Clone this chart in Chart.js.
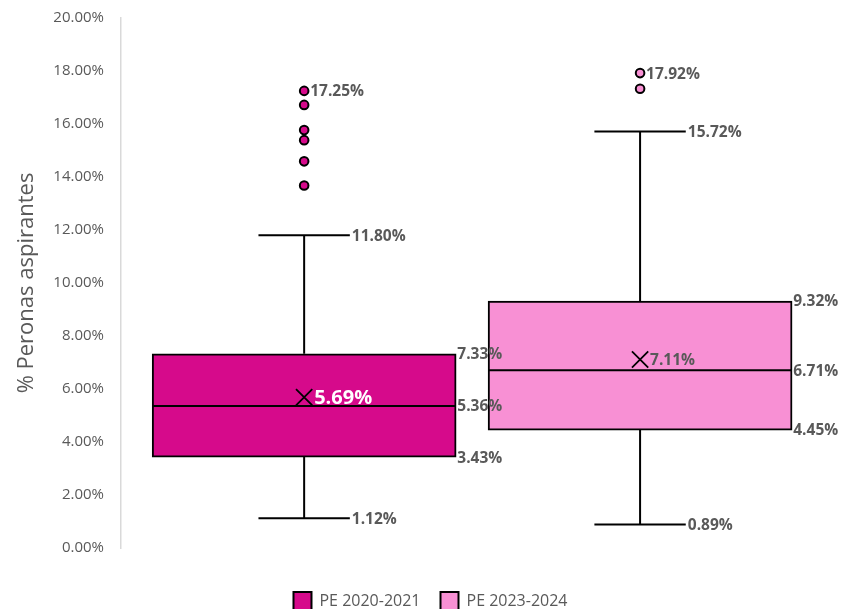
<!DOCTYPE html>
<html>
<head>
<meta charset="utf-8">
<script src="https://cdn.jsdelivr.net/npm/chart.js@4/dist/chart.umd.min.js"></script>
<style>
  html, body { margin: 0; padding: 0; background: #fff; }
  #wrap { width: 845px; height: 609px; }
</style>
</head>
<body>
<div id="wrap"><canvas id="box"></canvas></div>
<script>
// boxplot data (% of applicants)
const series = ['PE 2020-2021', 'PE 2023-2024'];
const slots = [1, 2];
const mins = [1.12, 0.89];
const q1s = [3.43, 4.45];
const medians = [5.36, 6.71];
const q3s = [7.33, 9.32];
const maxs = [11.80, 15.72];
const means = [5.69, 7.11];
const outliers = [
  [17.25, 16.72, 15.77, 15.39, 14.59, 13.68],
  [17.92, 17.33]
];
const yMin = 0, yMax = 20, yStep = 2;

const fills = ['#D60A8B', '#F890D4'];
const gray = '#595959';
const boxHalf = 0.45;
const capHalf = 0.136;

const pct = v => v.toFixed(2) + '%';

// boxes as floating bars
const boxSets = series.map((name, i) => ({
  type: 'bar',
  label: name,
  data: [{ x: slots[i], y: [q1s[i], q3s[i]] }],
  backgroundColor: fills[i],
  borderColor: '#000',
  borderWidth: 2,
  borderSkipped: false,
  grouped: false,
  barThickness: 304,
  order: 10
}));

// whiskers, caps and median as one broken line each
const lineSets = series.map((name, i) => {
  const c = slots[i];
  return {
    type: 'line',
    label: name + ' whiskers',
    data: [
      { x: c - capHalf, y: maxs[i] }, { x: c + capHalf, y: maxs[i] },
      { x: c, y: maxs[i] }, { x: c, y: q3s[i] },
      { x: c, y: null },
      { x: c, y: q1s[i] }, { x: c, y: mins[i] },
      { x: c - capHalf, y: mins[i] }, { x: c + capHalf, y: mins[i] },
      { x: c, y: null },
      { x: c - boxHalf, y: medians[i] }, { x: c + boxHalf, y: medians[i] }
    ],
    borderColor: '#000',
    borderWidth: 2,
    pointRadius: 0,
    fill: false,
    spanGaps: false,
    tension: 0,
    order: 5
  };
});

const meanSets = series.map((name, i) => ({
  type: 'scatter',
  label: name + ' mean',
  data: [{ x: slots[i], y: means[i] }],
  pointStyle: 'crossRot',
  pointRadius: 11.5,
  borderColor: '#000',
  borderWidth: 1.8,
  order: 1
}));

const outlierSets = series.map((name, i) => ({
  type: 'scatter',
  label: name + ' outliers',
  data: outliers[i].map(v => ({ x: slots[i], y: v })),
  pointStyle: 'circle',
  pointRadius: 4.3,
  backgroundColor: fills[i],
  borderColor: '#000',
  borderWidth: 2,
  order: 1
}));

// value labels next to the marks
const valueLabels = {
  id: 'valueLabels',
  afterDatasetsDraw(chart) {
    const { ctx, scales: { x, y } } = chart;
    ctx.save();
    ctx.textAlign = 'left';
    ctx.textBaseline = 'middle';
    const put = (txt, xv, yv, dx, font, color) => {
      ctx.font = font;
      ctx.fillStyle = color;
      ctx.fillText(txt, x.getPixelForValue(xv) + dx, y.getPixelForValue(yv) + 1);
    };
    const bold = 'bold 15.5px "Open Sans"';
    series.forEach((s, i) => {
      const c = slots[i];
      put(pct(maxs[i]), c + capHalf, maxs[i], 2, bold, gray);
      put(pct(mins[i]), c + capHalf, mins[i], 2, bold, gray);
      put(pct(q3s[i]), c + boxHalf, q3s[i], 2, bold, gray);
      put(pct(medians[i]), c + boxHalf, medians[i], 2, bold, gray);
      put(pct(q1s[i]), c + boxHalf, q1s[i], 2, bold, gray);
      const top = Math.max(...outliers[i]);
      put(pct(top), c, top, 6, bold, gray);
      if (i === 0) put(pct(means[i]), c, means[i], 10, 'bold 20px "Open Sans"', '#fff');
      else put(pct(means[i]), c, means[i], 10, bold, gray);
    });
    ctx.restore();
  }
};

new Chart(document.getElementById('box'), {
  type: 'bar',
  data: { datasets: [...boxSets, ...lineSets, ...meanSets, ...outlierSets] },
  options: {
    responsive: true,
    maintainAspectRatio: false,
    animation: false,
    layout: { padding: { top: 14, right: 10, left: 26, bottom: -11 } },
    scales: {
      x: {
        type: 'linear',
        offset: false,
        min: 0.4548,
        max: 2.5704,
        grid: { display: false },
        border: { display: false },
        ticks: { display: false },
        afterFit: s => { s.height = 24; }
      },
      y: {
        min: yMin,
        max: yMax,
        grid: { display: false },
        border: { display: true, color: '#d9d9d9', width: 1.5 },
        afterFit: s => { s.width = 95; },
        ticks: {
          stepSize: yStep,
          padding: 9,
          color: gray,
          font: { family: '"Open Sans"', size: 15 },
          callback: v => pct(v)
        },
        title: {
          display: true,
          text: '% Peronas aspirantes',
          color: gray,
          padding: { top: -12, bottom: 4 },
          font: { family: '"Open Sans"', size: 22 }
        }
      }
    },
    plugins: {
      tooltip: { enabled: false },
      legend: {
        position: 'bottom',
        labels: {
          filter: item => item.datasetIndex < series.length,
          color: gray,
          font: { family: '"Open Sans"', size: 16 },
          boxWidth: 18,
          boxHeight: 18,
          padding: 20
        }
      }
    }
  },
  plugins: [valueLabels]
});
</script>
</body>
</html>
